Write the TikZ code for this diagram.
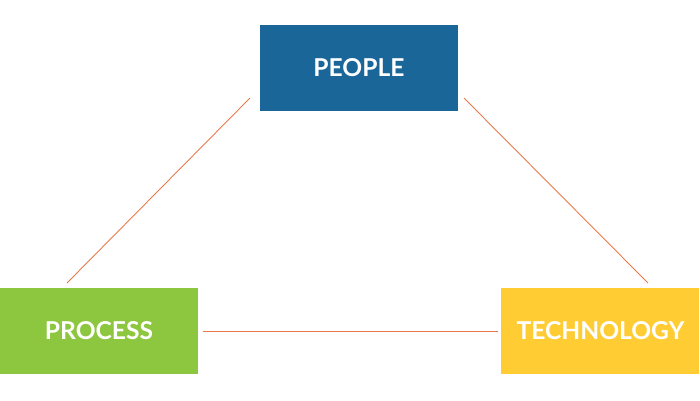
\documentclass[tikz,border=0pt]{standalone}
\usepackage{fontspec}
\setmainfont{Lato}
\usetikzlibrary{positioning}
\definecolor{peopleblue}{HTML}{1B6699}
\definecolor{processgreen}{HTML}{8DC63F}
\definecolor{techyellow}{HTML}{FFCC33}
\definecolor{linkorange}{HTML}{E8784A}
\tikzset{
  pillar/.style={minimum width=1.98cm, minimum height=0.86cm, inner sep=0pt,
    text=white, font=\fontsize{7}{8}\selectfont\bfseries},
  link/.style={linkorange, line width=0.25pt}
}
\begin{document}
\begin{tikzpicture}
  \useasboundingbox (0,0) rectangle (7,4);
  % Boxes
  \node[pillar, fill=peopleblue] (people) at (3.59,3.325) {PEOPLE};
  \node[pillar, fill=processgreen] (process) at (0.99,0.69) {PROCESS};
  \node[pillar, fill=techyellow] (tech) at (6.005,0.69) {TECHNOLOGY};

  % Link ends
  \coordinate (pl) at (2.50,3.02);
  \coordinate (pr) at (4.64,3.02);
  \coordinate (ql) at (0.67,1.17);
  \coordinate (tr) at (6.48,1.17);
  \draw[link] (pl) -- (ql);
  \draw[link] (pr) -- (tr);
  \draw[link, shorten <=0.04cm, shorten >=0.03cm] (process.east) -- (tech.west);
\end{tikzpicture}
\end{document}
